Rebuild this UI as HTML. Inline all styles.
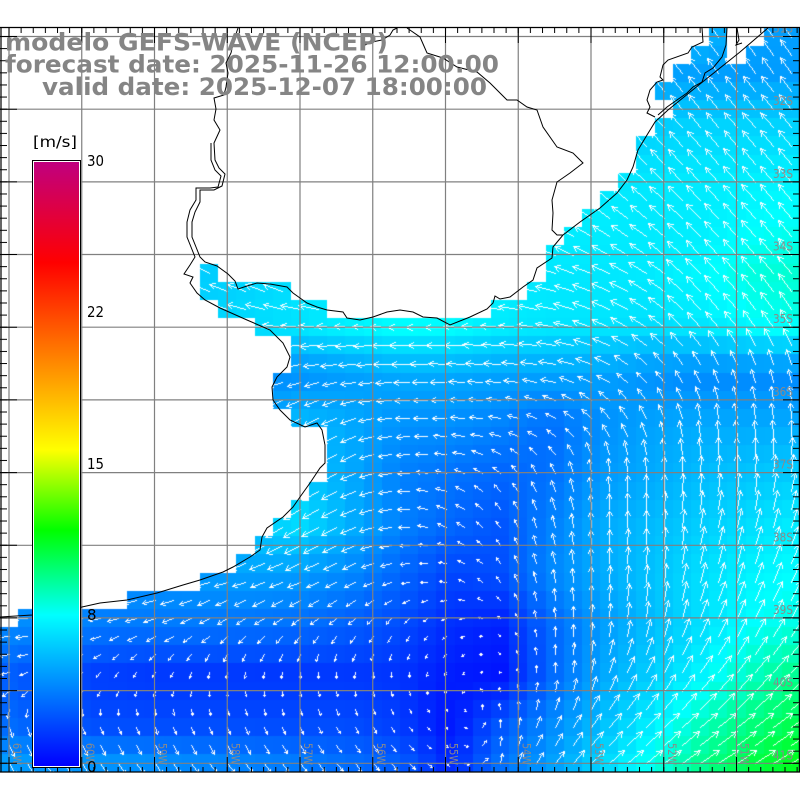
<!DOCTYPE html>
<html><head><meta charset="utf-8"><style>
html,body{margin:0;padding:0;background:#fff;width:800px;height:800px;overflow:hidden}
#cv,#ov{position:absolute;left:0;top:0}
</style></head><body>
<canvas id="cv" width="800" height="800"></canvas>
<svg id="ov" width="800" height="800" viewBox="0 0 800 800" xmlns="http://www.w3.org/2000/svg">
<defs>
<clipPath id="mc"><rect x="0" y="27.5" width="800" height="745"/></clipPath>
<linearGradient id="cb" x1="0" y1="0" x2="0" y2="1">
<stop offset="0" stop-color="#c0007f"/>
<stop offset="0.1667" stop-color="#ff0000"/>
<stop offset="0.4767" stop-color="#ffff00"/>
<stop offset="0.61" stop-color="#00ff00"/>
<stop offset="0.75" stop-color="#00ffff"/>
<stop offset="1" stop-color="#0000ff"/>
</linearGradient>
<pattern id="px" x="8.5" y="0" width="12.125" height="800" patternUnits="userSpaceOnUse"><rect width="1" height="800" fill="#000"/></pattern>
<pattern id="py" x="0" y="36" width="800" height="12.113" patternUnits="userSpaceOnUse"><rect width="800" height="1" fill="#000"/></pattern>
</defs>
<g clip-path="url(#mc)">
<path fill="none" stroke="#808080" stroke-width="1.2" d="M9 27.5V772M81.75 27.5V772M154.5 27.5V772M227.25 27.5V772M300 27.5V772M372.75 27.5V772M445.5 27.5V772M518.25 27.5V772M591 27.5V772M663.75 27.5V772M736.5 27.5V772M0 36.5H800M0 109.2H800M0 181.9H800M0 254.5H800M0 327.2H800M0 399.9H800M0 472.6H800M0 545.3H800M0 617.9H800M0 690.6H800M0 763.3H800"/>
<g fill="none" stroke="#000" stroke-width="1">
<polyline points="238,28 234,40 231,53 226,63 228,73 226,87 224,95 214,98 216,109 214,120 220,130 214,143 215,160 219,168 225,174 222,186 214,190 200,190 200,202 195,212 192,222 192,237 196,247 200,257 205,262 217,266 228,274 235,281 238,289 247,286 257,283 270,284 287,287 293,293 300,298 307,303 317,307 327,310 343,312 347,318 360,320 373,317 387,312 400,310 413,312 423,317 437,318 450,325 470,317 487,309 493,303 495,296 500,299 510,297 523,287 533,280 537,268 552,258 553,247 563,235 580,222 600,208 617,193 627,180 633,167 638,150 647,135 655,122 668,110 700,84 740,52 768,28"/>
<polyline points="211,143 211,160 215,170 221,176 218,187 210,188 196,188 196,200 190,210 187,222 187,237 191,247 195,257 190,265 184,274 193,277 190,283 197,293 205,300 220,308 247,320 270,330 283,343 290,357 287,367 277,377 272,387 273,400 280,410 290,420 305,427 317,423 322,430 325,445 325,463 320,468 310,483 300,497 293,507 283,517 267,528 262,537 260,550 250,557 233,567 223,572 200,580 183,585 157,593 127,600 100,603 82,607 60,611 32,615 0,617"/>
<polyline points="365,45 372,42 382,40 390,35 393,30 397,28"/>
<polyline points="407,28 420,37 427,53 443,58 457,67 477,72 490,83 500,93 507,100 517,100 527,107 537,110 543,127 557,147 573,153 583,163 570,173 557,182 552,200 553,213 552,230 557,235 563,235"/>
<polyline points="702,28 703,42 692,47 688,53 668,60 663,65 660,77 663,80 657,82 650,90 647,100 650,107 647,113 655,117"/>
<polyline points="727,28 726,45 722,57 713,68 705,73 702,82 693,87 687,93 677,100 667,107 658,115"/>
<polyline points="737,28 739,40 736,45 742,43"/>
</g>
<g font-family="DejaVu Sans, Liberation Sans, sans-serif" font-size="12" fill="#8a8a8a" text-anchor="end">
<text x="793" y="32.5" textLength="20" lengthAdjust="spacingAndGlyphs">31S</text>
<text x="793" y="105.2" textLength="20" lengthAdjust="spacingAndGlyphs">32S</text>
<text x="793" y="177.9" textLength="20" lengthAdjust="spacingAndGlyphs">33S</text>
<text x="793" y="250.5" textLength="20" lengthAdjust="spacingAndGlyphs">34S</text>
<text x="793" y="323.2" textLength="20" lengthAdjust="spacingAndGlyphs">35S</text>
<text x="793" y="395.9" textLength="20" lengthAdjust="spacingAndGlyphs">36S</text>
<text x="793" y="468.6" textLength="20" lengthAdjust="spacingAndGlyphs">37S</text>
<text x="793" y="541.3" textLength="20" lengthAdjust="spacingAndGlyphs">38S</text>
<text x="793" y="613.9" textLength="20" lengthAdjust="spacingAndGlyphs">39S</text>
<text x="793" y="686.6" textLength="20" lengthAdjust="spacingAndGlyphs">40S</text>
<text x="793" y="759.3" textLength="20" lengthAdjust="spacingAndGlyphs">41S</text>
</g>
<g font-family="DejaVu Sans, Liberation Sans, sans-serif" font-size="11.5" fill="#8a8a8a">
<text transform="translate(13,743) rotate(90)" textLength="22" lengthAdjust="spacingAndGlyphs">61W</text>
<text transform="translate(85.75,743) rotate(90)" textLength="22" lengthAdjust="spacingAndGlyphs">60W</text>
<text transform="translate(158.5,743) rotate(90)" textLength="22" lengthAdjust="spacingAndGlyphs">59W</text>
<text transform="translate(231.25,743) rotate(90)" textLength="22" lengthAdjust="spacingAndGlyphs">58W</text>
<text transform="translate(304,743) rotate(90)" textLength="22" lengthAdjust="spacingAndGlyphs">57W</text>
<text transform="translate(376.75,743) rotate(90)" textLength="22" lengthAdjust="spacingAndGlyphs">56W</text>
<text transform="translate(449.5,743) rotate(90)" textLength="22" lengthAdjust="spacingAndGlyphs">55W</text>
<text transform="translate(522.25,743) rotate(90)" textLength="22" lengthAdjust="spacingAndGlyphs">54W</text>
<text transform="translate(595,743) rotate(90)" textLength="22" lengthAdjust="spacingAndGlyphs">53W</text>
<text transform="translate(667.75,743) rotate(90)" textLength="22" lengthAdjust="spacingAndGlyphs">52W</text>
<text transform="translate(740.5,743) rotate(90)" textLength="22" lengthAdjust="spacingAndGlyphs">51W</text>
</g>
</g>
<rect x="0" y="28" width="800" height="5" fill="url(#px)"/>
<rect x="0" y="767" width="800" height="5" fill="url(#px)"/>
<rect x="0" y="28" width="7" height="744" fill="url(#py)"/>
<rect x="793" y="28" width="7" height="744" fill="url(#py)"/>
<path fill="none" stroke="#000" stroke-width="1" d="M9 27.5V43M81.75 27.5V43M154.5 27.5V43M227.25 27.5V43M300 27.5V43M372.75 27.5V43M445.5 27.5V43M518.25 27.5V43M591 27.5V43M663.75 27.5V43M736.5 27.5V43M9 757V772M81.75 757V772M154.5 757V772M227.25 757V772M300 757V772M372.75 757V772M445.5 757V772M518.25 757V772M591 757V772M663.75 757V772M736.5 757V772M0 36.5H17M0 109.2H17M0 181.9H17M0 254.5H17M0 327.2H17M0 399.9H17M0 472.6H17M0 545.3H17M0 617.9H17M0 690.6H17M0 763.3H17M783 36.5H800M783 109.2H800M783 181.9H800M783 254.5H800M783 327.2H800M783 399.9H800M783 472.6H800M783 545.3H800M783 617.9H800M783 690.6H800M783 763.3H800"/>
<path fill="none" stroke="#000" stroke-width="1.2" d="M0 27.5H800M0 772H800M1 27.5V772M799.4 27.5V772"/>
<rect x="32" y="160" width="49" height="608" fill="#000"/>
<rect x="33" y="161" width="47" height="606" fill="#fff"/>
<rect x="34" y="162" width="45" height="604" fill="url(#cb)"/>
<g font-family="DejaVu Sans, Liberation Sans, sans-serif" fill="#000">
<text x="33" y="147" font-size="15" textLength="44" lengthAdjust="spacingAndGlyphs">[m/s]</text>
<text x="87" y="166" font-size="15" textLength="17" lengthAdjust="spacingAndGlyphs">30</text>
<text x="87" y="317" font-size="15" textLength="17" lengthAdjust="spacingAndGlyphs">22</text>
<text x="87" y="469" font-size="15" textLength="17" lengthAdjust="spacingAndGlyphs">15</text>
<text x="87" y="620" font-size="15">8</text>
<text x="87" y="772" font-size="15">0</text>
</g>
<g font-family="DejaVu Sans, Liberation Sans, sans-serif" font-weight="bold" font-size="24" fill="#858585">
<text x="5" y="50.5" textLength="383" lengthAdjust="spacingAndGlyphs">modelo GEFS-WAVE (NCEP)</text>
<text x="5" y="72.5" textLength="494" lengthAdjust="spacingAndGlyphs">forecast date: 2025-11-26 12:00:00</text>
<text x="42" y="95" textLength="445" lengthAdjust="spacingAndGlyphs">valid date: 2025-12-07 18:00:00</text>
</g>
</svg>
<script>
(function(){
var cv=document.getElementById('cv'),c=cv.getContext('2d');
c.fillStyle='#fff';c.fillRect(0,0,800,800);
var S=[
[5,5,5,5,5,5,5,5,5,5,5,5,5,5,5.5,4.7,4.6],
[5,5,5,5,5,5,5,5,5,5,5,5,4.8,4.7,4.7,4.6,4.6],
[6,6,6,6,6,6,6,6,6,6,6,6,6,6,6.2,6.2,6.2],
[6.5,6.5,6.5,6.5,6.5,6.5,6.5,6.5,6.5,6.5,6.5,6.8,6.8,6.8,6.9,7,7.2],
[6.5,6.5,6.5,6.5,6.5,6.5,6.5,6.5,6.5,6.5,6.8,7,7,6.9,7,7.4,7.7],
[6,6,6,6,6,6.2,6.5,6.8,7,7,6.9,6.8,6.8,6.9,7.3,8,8.3],
[6,6,6,6,6.2,6.5,6.8,7.2,7.6,7.5,7,6.8,6.8,6.6,6.9,7.5,7.8],
[4,4,4,4,4,4,4.2,4.6,5,5,4.8,4.8,4.7,4.3,4,4,4],
[5,5,5,5,5,5,5.5,5,4.3,4.2,3.8,3.2,4.2,4.8,5,5,5],
[5,5,5,5,5,5,6,5,3.8,3.4,3,3.3,4.5,5,5.5,5.8,6],
[5,5,5,5,5,6,6.5,5.2,3.8,3,2.5,3.8,5,5.5,6,6.5,7],
[4.5,4.5,4.5,4.5,4.6,4.7,4.6,4,3,2,2.3,4,5,5.7,6.5,7.2,7.5],
[4.2,4,3.6,3.5,3.5,3.4,3.2,2.8,2.2,1.3,1,3,4.5,5.5,6.5,7.5,8],
[2.8,2.2,1.8,1.6,1.6,1.6,1.6,1.6,1.5,0.8,0.6,3,4.8,6,7.2,8.5,9.5],
[3.2,2.6,2.2,2.2,2.2,2.2,2.2,2.2,1.8,0.6,2.5,4,5.5,7,8.5,9.6,10.5],
[5,5,5,4.8,4.5,4.3,4,3.5,3,1.3,3.5,4.8,6.5,8,9.5,10.8,11.5]];
var A=[
[130,130,130,130,130,130,130,130,130,130,130,130,130,130,128,125,125],
[130,130,130,130,130,130,130,130,130,130,130,130,130,130,128,126,126],
[135,135,135,135,135,135,135,135,135,135,135,135,135,132,130,130,130],
[140,140,140,140,140,140,140,140,140,140,140,140,138,135,132,130,130],
[150,150,150,150,150,150,150,150,150,150,150,148,145,140,135,130,128],
[155,155,155,155,155,155,156,160,168,170,168,165,160,148,135,130,128],
[165,165,165,165,165,168,172,176,178,178,175,170,158,145,132,126,122],
[200,200,200,200,200,200,198,190,182,180,178,172,160,135,118,108,102],
[210,210,210,210,210,210,210,200,182,178,170,150,130,112,100,95,92],
[215,215,215,215,215,215,215,208,185,165,140,115,95,90,88,86,82],
[215,215,215,215,215,215,210,205,182,155,125,105,92,88,82,76,72],
[180,182,185,190,195,198,200,205,192,165,125,100,90,86,76,70,66],
[180,182,190,200,208,214,220,225,232,215,150,92,86,80,70,64,60],
[190,205,225,240,255,262,268,270,270,240,120,88,75,62,55,50,45],
[285,290,290,292,292,292,295,298,305,320,90,65,52,45,40,38,35],
[305,305,308,310,312,312,312,315,318,330,75,50,42,38,35,33,30]];
function F(x,y){
 var fx=x/50,fy=(y-25)/50;
 if(fx<0)fx=0;if(fx>16)fx=16;if(fy<0)fy=0;if(fy>15)fy=15;
 var i=Math.min(Math.floor(fx),15),j=Math.min(Math.floor(fy),14),tx=fx-i,ty=fy-j;
 var W=[(1-tx)*(1-ty),tx*(1-ty),(1-tx)*ty,tx*ty],P=[[j,i],[j,i+1],[j+1,i],[j+1,i+1]];
 var s=0,ux=0,uy=0;
 for(var k=0;k<4;k++){var r=P[k][0],q=P[k][1],a=A[r][q]*Math.PI/180;s+=W[k]*S[r][q];ux+=W[k]*Math.cos(a);uy+=W[k]*Math.sin(a);}
 return [s,Math.atan2(uy,ux)];
}
var ST=[[0,0,0,255],[7.5,0,255,255],[11.7,0,255,0],[15.7,255,255,0],[25,255,0,0],[30,192,0,127]];
function col(v){if(v<0)v=0;if(v>30)v=30;
 for(var k=1;k<ST.length;k++){if(v<=ST[k][0]){var a=ST[k-1],b=ST[k],t=(v-a[0])/(b[0]-a[0]);
 return 'rgb('+Math.round(a[1]+(b[1]-a[1])*t)+','+Math.round(a[2]+(b[2]-a[2])*t)+','+Math.round(a[3]+(b[3]-a[3])*t)+')';}}
 return 'rgb(192,0,127)';}
var R=[
[[39,39],[42,43]],[[38,39],[41,43]],[[37,43]],[[36,43]],[[37,43]],[[36,43]],[[35,43]],[[35,43]],
[[34,43]],[[33,43]],[[32,43]],[[31,43]],[[30,43]],[[11,11],[30,43]],[[11,15],[29,43]],[[12,17],[27,43]],
[[14,43]],[[16,43]],[[16,43]],[[15,43]],[[15,43]],[[16,43]],[[18,43]],[[18,43]],[[18,43]],[[17,43]],
[[16,43]],[[15,43]],[[14,43]],[[13,43]],[[11,43]],[[7,43]],[[1,43]],
[[0,43]],[[0,43]],[[0,43]],[[0,43]],[[0,43]],[[0,43]],[[0,43]],[[0,43]]];
var CW=18.1875,CH=18.17,cells=[];
for(var j=0;j<R.length;j++){
 var cy=36.5+CH*j,y0=Math.round(cy-CH/2),y1=Math.round(cy+CH/2);
 if(y0<28)y0=28;if(y1>772)y1=772;
 for(var m=0;m<R[j].length;m++){
  for(var i=R[j][m][0];i<=R[j][m][1];i++){
   var cx=9+CW*i,x0=Math.round(cx-CW/2),x1=Math.round(cx+CW/2);
   if(x0<0)x0=0;if(x1>800)x1=800;
   var f=F(cx,cy);
   c.fillStyle=col(f[0]);c.fillRect(x0,y0,x1-x0,y1-y0);
   cells.push([cx,cy,f[0],f[1]]);
  }}}
c.fillStyle='#fff';
function px(x,y){if(y>=28&&y<772&&x>=0&&x<800)c.fillRect(x,y,1,1);}
function ln(xa,ya,xb,yb){
 xa=Math.round(xa);ya=Math.round(ya);xb=Math.round(xb);yb=Math.round(yb);
 var dx=Math.abs(xb-xa),dy=-Math.abs(yb-ya),sx=xa<xb?1:-1,sy=ya<yb?1:-1,err=dx+dy,n=0;
 while(n<200){px(xa,ya);if(xa===xb&&ya===yb)break;var e2=2*err;
  if(e2>=dy){err+=dy;xa+=sx;} if(e2<=dx){err+=dx;ya+=sy;} n++;}
}
for(var n=0;n<cells.length;n++){
 var e=cells[n],v=e[2],L=v<6?3.2*v:19.2+1.2*(v-6);
 if(e[1]<200&&L<19)L=19;
 var a=e[3],ex=e[0]+L*Math.cos(a),ey=e[1]-L*Math.sin(a);
 var h=Math.min(6,Math.max(2,0.33*L)),b=0.5;
 ln(e[0],e[1],ex,ey);
 ln(ex,ey,ex-h*Math.cos(a-b),ey+h*Math.sin(a-b));
 ln(ex,ey,ex-h*Math.cos(a+b),ey+h*Math.sin(a+b));
}
})();
</script>
</body></html>
